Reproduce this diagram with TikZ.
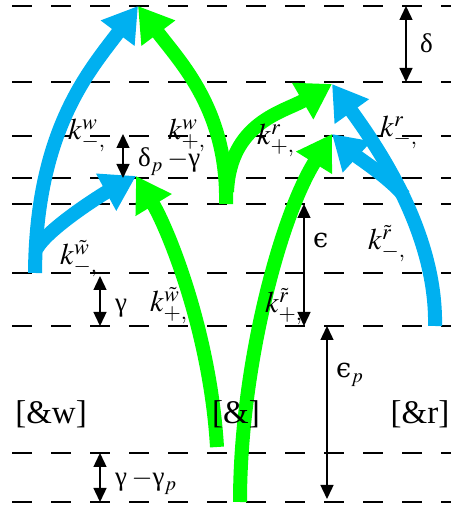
\documentclass[tikz,border=0pt]{standalone}
\usepackage{mathptmx}
\usepackage{fontspec}
\setmainfont{Liberation Serif}
\newfontfamily\grkfont{DejaVu Serif}
\usepackage{tikz}
\usetikzlibrary{arrows.meta, positioning}
\definecolor{arcblue}{RGB}{0,176,240}
\definecolor{arcgreen}{RGB}{0,255,0}

\begin{document}
\begin{tikzpicture}[
  x=1pt, y=1pt,
  lvl/.style={
    dash pattern=on 20pt off 19pt, line width=1.6pt
  },
  bflow/.style={
    -{Triangle[length=34pt, width=40pt]},
    line width=14pt, color=arcblue
  },
  gflow/.style={
    -{Triangle[length=34pt, width=40pt]},
    line width=14pt, color=arcgreen
  },
  gaparr/.style={
    {Triangle[length=14pt, width=13pt]}-{Triangle[length=14pt, width=13pt]},
    line width=1.4pt
  },
  klab/.style={
    font=\fontsize{30}{32}\selectfont,
    inner sep=0pt, anchor=base west
  },
  glab/.style={
    font=\fontsize{27}{29}\selectfont,
    inner sep=0pt, anchor=base west
  },
  phase/.style={
    font=\fontsize{33}{36}\selectfont, inner sep=0pt
  }
]

\useasboundingbox (0,0) rectangle (451,510);

%% ── Niveles (líneas discontinuas) ────────────────────────────────────────
\foreach \y in {504, 428, 374, 332, 306, 237, 184, 57, 8}
  \draw[lvl] (12,\y) -- (451,\y);

%% ── Puntos de llegada y de salida ────────────────────────────────────────
\coordinate (wtop)   at (138, 504);
\coordinate (wmid)   at (136, 334);
\coordinate (rtop)   at (332, 426);
\coordinate (rmid)   at (332, 376);
\coordinate (bwfoot) at (35, 237);
\coordinate (bwfork) at (37, 262);
\coordinate (gfoot)  at (226, 306);
\coordinate (gfork)  at (227, 318);
\coordinate (gwfoot) at (217, 63);
\coordinate (grfoot) at (240, 8);
\coordinate (brfoot) at (435, 184);
\coordinate (brfork) at (404, 314);

%% ── Flechas de transición ────────────────────────────────────────────────
%% las ramas van primero: el tronco tapa su arranque
\draw[bflow] (bwfork) .. controls +(12,20) and +(-35,-19) .. (wmid);
\draw[bflow] (bwfoot) .. controls +(1,143) and +(-48,-64) .. (wtop);

\draw[gflow] (gfork) .. controls +(3,70) and +(-48,-28) .. (rtop);
\draw[gflow] (gfoot) .. controls +(2,94) and +(42,-56) .. (wtop);

\draw[gflow] (gwfoot) .. controls +(-7,117) and +(31,-51) .. (wmid);
\draw[gflow] (grfoot) .. controls +(0,132) and +(-53,-85) .. (rmid);

\draw[bflow] (brfork) .. controls +(-12,16) and +(24,-22) .. (rmid);
\draw[bflow] (brfoot) .. controls +(2,96) and +(41,-57) .. (rtop);

%% ── Separaciones de energía ──────────────────────────────────────────────
\coordinate (del-a) at (406, 504);  \coordinate (del-b) at (406, 428);
\coordinate (dpg-a) at (123, 376);  \coordinate (dpg-b) at (123, 332);
\coordinate (eps-a) at (304, 306);  \coordinate (eps-b) at (304, 184);
\coordinate (gam-a) at (100, 234);  \coordinate (gam-b) at (100, 184);
\coordinate (epp-a) at (327, 184);  \coordinate (epp-b) at (327, 11);
\coordinate (ggp-a) at (100, 57);   \coordinate (ggp-b) at (100, 8);

\draw[gaparr] (del-a) -- (del-b);
\draw[gaparr] (dpg-a) -- (dpg-b);
\draw[gaparr] (eps-a) -- (eps-b);
\draw[gaparr] (gam-a) -- (gam-b);
\draw[gaparr] (epp-a) -- (epp-b);
\draw[gaparr] (ggp-a) -- (ggp-b);

\node[glab] (lbl-del) at (420, 457) {δ};
\node[glab] (lbl-dpg) at (138, 343) {δ$_{p}$\,$-$γ};
\node[glab] (lbl-eps) at (313, 262) {\grkfont ϵ};
\node[glab] (lbl-gam) at (115, 198) {γ};
\node[glab] (lbl-epp) at (336, 132) {{\grkfont ϵ}$_{p}$};
\node[glab] (lbl-ggp) at (115, 24)  {γ\,$-$γ$_{p}$};

%% ── Constantes de velocidad ──────────────────────────────────────────────
\node[klab] (k-wm)  at (68, 370)  {$k^{w}_{-,}$};
\node[klab] (k-wp)  at (168, 370) {$k^{w}_{+,}$};
\node[klab] (k-twm) at (60, 245)  {$k^{\tilde w}_{-,}$};
\node[klab] (k-twp) at (150, 198) {$k^{\tilde w}_{+,}$};
\node[klab] (k-rp)  at (257, 365) {$k^{r}_{+,}$};
\node[klab] (k-rm)  at (380, 373) {$k^{r}_{-,}$};
\node[klab] (k-trm) at (368, 260) {$k^{\tilde r}_{-,}$};
\node[klab] (k-trp) at (265, 197) {$k^{\tilde r}_{+,}$};

%% ── Estados ──────────────────────────────────────────────────────────────
\node[phase] (st-w) at (51, 96)  {[\&w]};
\node[phase] (st-0) at (236, 96) {[\&]};
\node[phase] (st-r) at (420, 96) {[\&r]};

\end{tikzpicture}
\end{document}
